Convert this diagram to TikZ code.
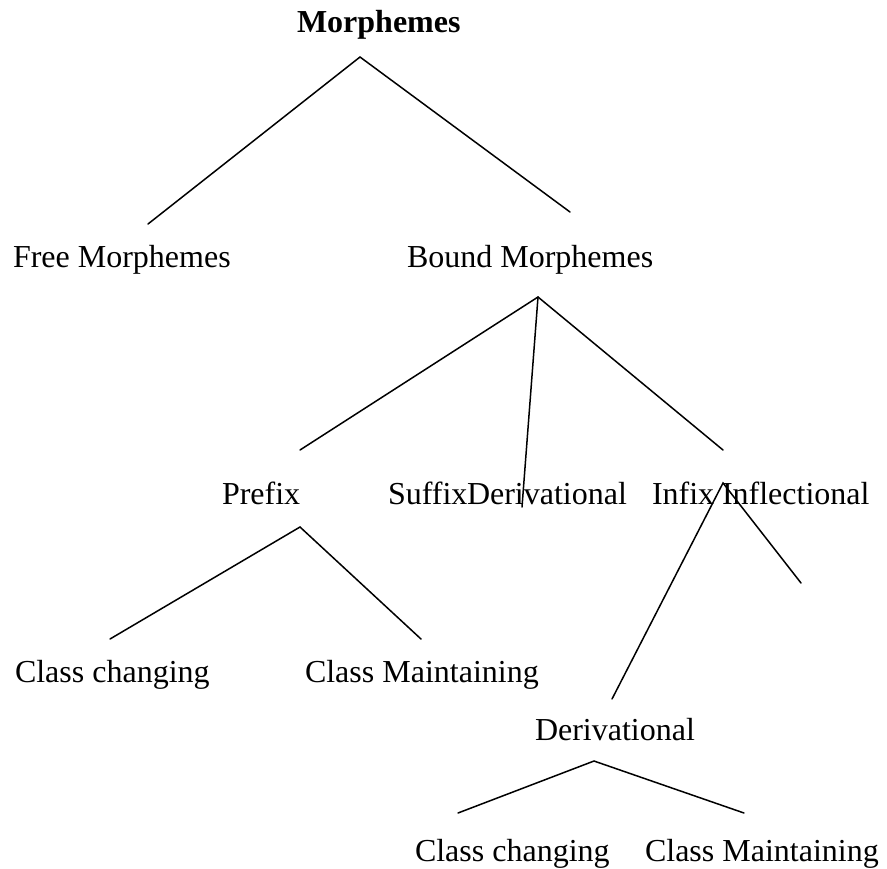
\documentclass[tikz,border=0pt]{standalone}
\usepackage{fontspec}
\setmainfont{Liberation Serif}
\begin{document}
\begin{tikzpicture}[x=0.5pt,y=-0.5pt,
  label/.style={anchor=base west,inner sep=0pt,outer sep=0pt,
    font=\fontsize{16}{19}\selectfont},
  title/.style={label,font=\fontsize{16}{19}\selectfont\bfseries},
  branch/.style={line width=0.75pt,line cap=round}]
\useasboundingbox (0,0) rectangle (887,868);

% labels
\node[title] (morph) at (297,32) {Morphemes};
\node[label] (free)  at (13,267)  {Free Morphemes};
\node[label] (bound) at (407,267) {Bound Morphemes};
\node[label] (prefix) at (222,504) {Prefix};
\node[label] (suffix) at (388,504) {Suffix};
\node[label] (deriv1) at (467,504) {Derivational};
\node[label] (infix)  at (652,504) {Infix};
\node[label] (infl)   at (722,504) {Inflectional};
\node[label] (cc1) at (15,682)  {Class changing};
\node[label] (cm1) at (305,682) {Class Maintaining};
\node[label] (deriv2) at (535,740) {Derivational};
\node[label] (cc2) at (415,861) {Class changing};
\node[label] (cm2) at (645,861) {Class Maintaining};

% branch points and free line ends
\coordinate (vMorph) at (360,57);
\coordinate (eFree)  at (148,224);
\coordinate (eBound) at (570,212);
\coordinate (vBound) at (538,297);
\coordinate (ePrefix) at (300,450);
\coordinate (eSuffix) at (522,507);
\coordinate (eInfix)  at (723,450);
\coordinate (vPrefix) at (300,527);
\coordinate (eCc1) at (110,639);
\coordinate (eCm1) at (421,639);
\coordinate (vInfix) at (723,483);
\coordinate (eDeriv) at (612,699);
\coordinate (eInfl)  at (801,583);
\coordinate (vDeriv) at (594,761);
\coordinate (eCc2) at (458,813);
\coordinate (eCm2) at (744,813);

% branches
\draw[branch] (eFree) -- (vMorph) -- (eBound);
\draw[branch] (ePrefix) -- (vBound) -- (eInfix);
\draw[branch] (vBound) -- (eSuffix);
\draw[branch] (eCc1) -- (vPrefix) -- (eCm1);
\draw[branch] (eDeriv) -- (vInfix) -- (eInfl);
\draw[branch] (eCc2) -- (vDeriv) -- (eCm2);
\end{tikzpicture}
\end{document}
